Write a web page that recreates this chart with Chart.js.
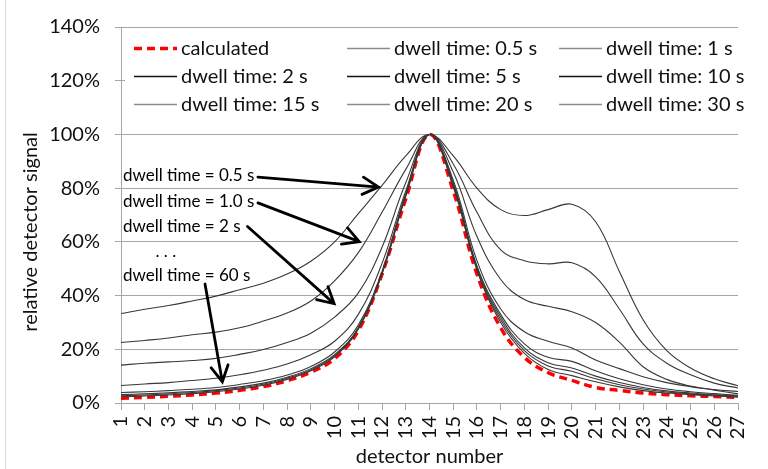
<!DOCTYPE html>
<html>
<head>
<meta charset="utf-8">
<script src="https://cdn.jsdelivr.net/npm/chart.js@4.4.1/dist/chart.umd.min.js"></script>
<style>
html, body { margin: 0; padding: 0; background: #fff; }
#marco { position: relative; width: 768px; height: 469px; }
#marco:before { content: ''; position: absolute; left: 5px; top: 0; bottom: 0; border-left: 1px solid #d9d9d9; }
</style>
</head>
<body>
<div id="marco"><canvas id="grafica" width="768" height="469"></canvas></div>
<script>
// detector numbers (x axis)
var detectores = ['1','2','3','4','5','6','7','8','9','10','11','12','13','14','15','16','17','18','19','20','21','22','23','24','25','26','27'];

// relative detector signal, in %
var calculado = [1.8, 2.1, 2.5, 3.0, 3.7, 4.7, 6.1, 8.3, 11.5, 16.5, 27, 48, 76, 100, 79, 48, 28, 17, 11.3, 8.4, 5.8, 4.7, 3.7, 3.1, 2.7, 2.4, 2.1];
var dwell05 = [33.3, 34.9, 36.3, 38.0, 39.8, 42.2, 44.6, 48.0, 52.8, 60, 70.5, 81, 92, 100, 92, 80, 72, 69.8, 72, 74, 67.5, 49, 31, 19.5, 13, 9, 6.4];
var dwell1 = [22.5, 23.3, 24.2, 25.4, 26.4, 28.0, 30.5, 33.5, 38, 45.5, 56, 71, 87, 100, 89, 71, 57, 53, 51.8, 52.2, 47, 35, 22, 14.8, 10.5, 7.4, 5.6];
var dwell2 = [14.1, 14.8, 15.3, 15.8, 16.6, 18.1, 19.9, 22.5, 26, 32, 41, 58, 82, 100, 86, 62, 46, 38.5, 36, 34, 30, 22.7, 13.5, 8.8, 6.3, 5.0, 4.3];
var dwell5 = [6.5, 7.1, 7.6, 8.4, 9.2, 10.5, 12.2, 14.5, 18, 23, 33, 52, 79, 100, 83, 53, 35, 26.5, 23, 20.5, 16, 12.8, 9.8, 7.6, 6.1, 4.8, 3.4];
var dwell10 = [3.9, 4.2, 4.6, 5.1, 5.8, 6.9, 8.3, 10.4, 13.6, 19, 29, 49, 78, 100, 82, 51, 33, 22, 17, 15.5, 12, 9, 6.8, 5.2, 4.2, 3.5, 2.9];
var dwell15 = [3.1, 3.4, 3.8, 4.3, 4.9, 6.0, 7.4, 9.6, 12.8, 18, 28, 48.5, 77.5, 100, 81.5, 50.5, 32, 20.5, 15, 13, 10, 7.6, 5.8, 4.5, 3.7, 3.1, 2.6];
var dwell20 = [2.7, 3.0, 3.4, 3.9, 4.6, 5.6, 7.0, 9.2, 12.4, 17.6, 27.8, 48.3, 77.2, 100, 81, 50, 31, 19.5, 13.8, 11.8, 9.0, 6.8, 5.2, 4.1, 3.4, 2.9, 2.4];
var dwell30 = [2.3, 2.6, 3.0, 3.5, 4.2, 5.2, 6.6, 8.8, 12.0, 17.2, 27.5, 48.1, 77, 100, 80.5, 49.5, 30, 18.5, 12.5, 10.2, 7.9, 6.0, 4.6, 3.7, 3.1, 2.6, 2.2];

var nombres = ['calculated', 'dwell time: 0.5 s', 'dwell time: 1 s', 'dwell time: 2 s', 'dwell time: 5 s', 'dwell time: 10 s', 'dwell time: 15 s', 'dwell time: 20 s', 'dwell time: 30 s'];
var series = [calculado, dwell05, dwell1, dwell2, dwell5, dwell10, dwell15, dwell20, dwell30];

// annotation texts and arrows, placed in data coordinates (category index, %)
var notas = [
    { texto: 'dwell time = 0.5 s', x: 0.08, y: 84.8 },
    { texto: 'dwell time = 1.0 s', x: 0.08, y: 75.2 },
    { texto: 'dwell time = 2 s', x: 0.08, y: 65.7 },
    { texto: '. . .', x: 1.45, y: 56.5 },
    { texto: 'dwell time = 60 s', x: 0.08, y: 47.3 }
];
var flechas = [
    { x1: 5.77, y1: 84.1, x2: 10.85, y2: 80.4 },
    { x1: 5.77, y1: 74.5, x2: 10.04, y2: 60.1 },
    { x1: 5.33, y1: 65.7, x2: 8.98, y2: 37.0 },
    { x1: 3.54, y1: 44.3, x2: 4.27, y2: 7.9 }
];

var fuente = 'Lato, "Open Sans", sans-serif';
var gris = '#a6a6a6';

var datasets = [];
series.forEach(function (valores, i) {
    var negro = (i == 3 || i == 4 || i == 5);
    if (i == 0) {
        datasets.push({
            label: nombres[i], data: valores, borderColor: '#ff0000', borderWidth: 3.5,
            borderDash: [8, 5], pointRadius: 0, tension: 0.4, order: 5, fill: false
        });
    } else {
        datasets.push({
            label: nombres[i], data: valores, borderColor: '#383838',
            legendColor: negro ? '#111111' : '#8c8c8c', borderWidth: 1.1,
            pointRadius: 0, tension: 0.4, order: 0, fill: false
        });
    }
});

var extras = {
    id: 'extras',
    afterDraw: function (chart) {
        var ctx = chart.ctx;
        var xs = chart.scales.x, ys = chart.scales.y;
        var area = chart.chartArea;
        ctx.save();

        // legend box over the top of the plot
        ctx.fillStyle = '#ffffff';
        ctx.fillRect(area.left + 4, 34, area.right - area.left - 5, 84);
        ctx.font = '20px ' + fuente;
        ctx.textBaseline = 'middle';
        ctx.textAlign = 'left';
        var columnas = [area.left + 13, area.left + 226, area.left + 438];
        var filas = [48.5, 76.5, 104.5];
        chart.data.datasets.forEach(function (ds, i) {
            var x = columnas[i % 3], y = filas[Math.floor(i / 3)];
            ctx.beginPath();
            ctx.strokeStyle = ds.legendColor || ds.borderColor;
            ctx.lineWidth = i == 0 ? 3.5 : 1.5;
            ctx.setLineDash(ds.borderDash || []);
            ctx.moveTo(x, y);
            ctx.lineTo(x + 43, y);
            ctx.stroke();
            ctx.setLineDash([]);
            ctx.fillStyle = '#111';
            ctx.fillText(ds.label, x + 47, y);
        });

        // annotations
        ctx.font = '17px ' + fuente;
        ctx.fillStyle = '#000';
        notas.forEach(function (n) {
            ctx.fillText(n.texto, xs.getPixelForValue(n.x), ys.getPixelForValue(n.y));
        });
        ctx.strokeStyle = '#000';
        ctx.lineWidth = 2.8;
        ctx.lineCap = 'round';
        flechas.forEach(function (f) {
            var x1 = xs.getPixelForValue(f.x1), y1 = ys.getPixelForValue(f.y1);
            var x2 = xs.getPixelForValue(f.x2), y2 = ys.getPixelForValue(f.y2);
            var ang = Math.atan2(y2 - y1, x2 - x1);
            ctx.beginPath();
            ctx.moveTo(x1, y1);
            ctx.lineTo(x2, y2);
            ctx.moveTo(x2 - 18 * Math.cos(ang - 0.5), y2 - 18 * Math.sin(ang - 0.5));
            ctx.lineTo(x2, y2);
            ctx.lineTo(x2 - 18 * Math.cos(ang + 0.5), y2 - 18 * Math.sin(ang + 0.5));
            ctx.stroke();
        });

        // y axis title
        ctx.translate(31, 232);
        ctx.rotate(-Math.PI / 2);
        ctx.textAlign = 'center';
        ctx.font = '20px ' + fuente;
        ctx.fillStyle = '#111';
        ctx.fillText('relative detector signal', 0, 0);
        ctx.restore();
    }
};

var grafica = new Chart(document.getElementById('grafica').getContext('2d'), {
    type: 'line',
    data: { labels: detectores, datasets: datasets },
    options: {
        responsive: false,
        animation: false,
        devicePixelRatio: 1,
        layout: { padding: { left: 0, right: 7, top: 23, bottom: 0 } },
        plugins: { legend: { display: false }, tooltip: { enabled: false } },
        scales: {
            x: {
                offset: false,
                afterFit: function (scale) { scale.height = 66; },
                grid: { display: true, drawOnChartArea: false, drawTicks: true, tickLength: 7, color: gris },
                border: { display: true, color: gris },
                ticks: { autoSkip: false, maxRotation: 90, minRotation: 90, padding: 6, color: '#111', font: { family: fuente, size: 20 } },
                title: { display: true, text: 'detector number', color: '#111', padding: { top: 0, bottom: 0 }, font: { family: fuente, size: 20 } }
            },
            y: {
                min: 0, max: 140,
                afterFit: function (scale) { scale.width = 121; },
                grid: { color: gris, tickLength: 6, drawTicks: true },
                border: { display: true, color: gris },
                ticks: { stepSize: 20, padding: 15, color: '#111', font: { family: fuente, size: 20 },
                    callback: function (v) { return v + '%'; } }
            }
        }
    },
    plugins: [extras]
});
</script>
</body>
</html>
